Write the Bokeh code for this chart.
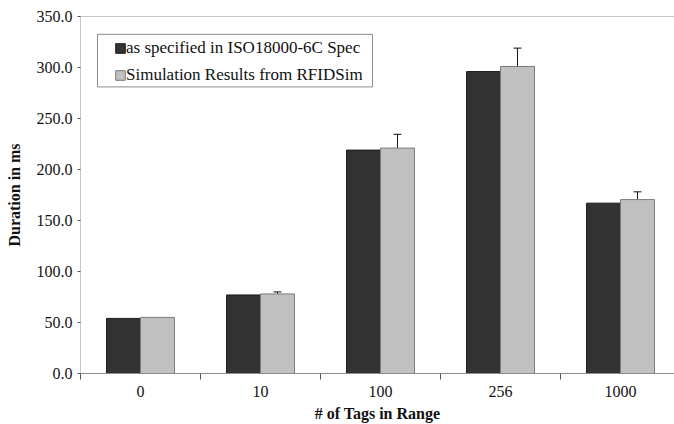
from bokeh.plotting import figure
from bokeh.models import (ColumnDataSource, Range1d, FixedTicker, NumeralTickFormatter,
                          Whisker, TeeHead, Legend, LegendItem, Span, BoxAnnotation)
from bokeh.transform import dodge
from bokeh.embed import file_html
from bokeh.resources import INLINE

categories = ["0", "10", "100", "256", "1000"]
spec_values = [54.0, 77.0, 219.0, 296.0, 167.0]
sim_values = [55.0, 78.0, 221.0, 301.0, 170.5]
sim_errors = [0.0, 2.0, 13.5, 18.0, 7.6]
series_names = ["as specified in ISO18000-6C Spec", "Simulation Results from RFIDSim"]
y_ticks = [0, 50, 100, 150, 200, 250, 300, 350]

FONT = "Liberation Serif"
BAR_W = 0.283
OFF = BAR_W / 2

xs = list(range(len(categories)))
src = ColumnDataSource(dict(x=xs, spec=spec_values, sim=sim_values))
ex = [x for x, e in zip(xs, sim_errors) if e > 0]
eu = [v + e for v, e in zip(sim_values, sim_errors) if e > 0]
el = [v - e for v, e in zip(sim_values, sim_errors) if e > 0]
err_src = ColumnDataSource(dict(x=ex, upper=eu, lower=el))

p = figure(width=674, height=424, output_backend="svg", toolbar_location=None,
           x_range=Range1d(-0.5, -0.5 + 594 / 120), y_range=Range1d(0, 350),
           min_border_left=80, min_border_right=0, min_border_top=16, min_border_bottom=48)
p.outline_line_color = None
p.grid.visible = False
p.background_fill_color = "white"
p.border_fill_color = "white"

r1 = p.vbar(x=dodge("x", -OFF, range=p.x_range), top="spec", width=BAR_W, source=src,
            fill_color="#333333", line_color="#1a1a1a", line_width=1)
r2 = p.vbar(x=dodge("x", OFF, range=p.x_range), top="sim", width=BAR_W, source=src,
            fill_color="#c0c0c0", line_color="#7a7a7a", line_width=1)

w = Whisker(base=dodge("x", OFF, range=p.x_range), upper="upper", lower="lower", source=err_src,
            dimension="height", line_color="#111111", line_width=1,
            upper_head=TeeHead(size=8, line_color="#111111", line_width=1),
            lower_head=TeeHead(size=8, line_color="#111111", line_width=1))
p.add_layout(w)

p.add_layout(Span(location=350, dimension="width", line_color="#8c8c8c", line_width=1))

# x axis
xa = p.xaxis[0]
xa.ticker = FixedTicker(ticks=xs, minor_ticks=[x + 0.5 for x in [-1] + xs])
xa.major_label_overrides = {x: c for x, c in zip(xs, categories)}
xa.major_tick_out = 0
xa.major_tick_in = 0
xa.minor_tick_out = 6
xa.minor_tick_in = 0
xa.minor_tick_line_color = "#555555"
xa.axis_line_color = "#8c8c8c"
xa.major_label_text_font = FONT
xa.major_label_text_font_size = "16px"
xa.major_label_text_color = "#111111"
xa.major_label_standoff = 6
xa.axis_label = "# of Tags in Range"
xa.axis_label_text_font = FONT
xa.axis_label_text_font_size = "16px"
xa.axis_label_text_font_style = "bold"
xa.axis_label_text_color = "#111111"
xa.axis_label_standoff = 5

# y axis
ya = p.yaxis[0]
ya.ticker = FixedTicker(ticks=y_ticks)
ya.formatter = NumeralTickFormatter(format="0.0")
ya.major_tick_out = 3
ya.major_tick_in = 0
ya.minor_tick_line_color = None
ya.major_tick_line_color = "#555555"
ya.axis_line_color = "#c8c8c8"
ya.major_label_text_font = FONT
ya.major_label_text_font_size = "16px"
ya.major_label_text_color = "#111111"
ya.major_label_standoff = 5
ya.axis_label = "Duration in ms"
ya.axis_label_text_font = FONT
ya.axis_label_text_font_size = "16px"
ya.axis_label_text_font_style = "bold"
ya.axis_label_text_color = "#111111"
ya.axis_label_standoff = 11

# legend frame (screen-sized decoration placed in plot space)
px_per_x = 120.0
px_per_y = 360.0 / 350.0
box = BoxAnnotation(left=-0.5 + 17 / px_per_x, right=-0.5 + 292 / px_per_x,
                    top=(376 - 34) / px_per_y, bottom=(376 - 87) / px_per_y,
                    fill_alpha=0, line_color="#8c8c8c", line_width=1, line_alpha=1)
p.add_layout(box)

legend = Legend(items=[LegendItem(label=series_names[0], renderers=[r1]),
                       LegendItem(label=series_names[1], renderers=[r2])],
                location=(34, 288), padding=0, margin=0, spacing=7,
                glyph_width=12, glyph_height=12, label_standoff=0, label_height=20,
                border_line_color=None, background_fill_alpha=0,
                label_text_font=FONT, label_text_font_size="17px", label_text_color="#111111")
p.add_layout(legend)

open("out.html", "w").write(file_html(p, INLINE))
